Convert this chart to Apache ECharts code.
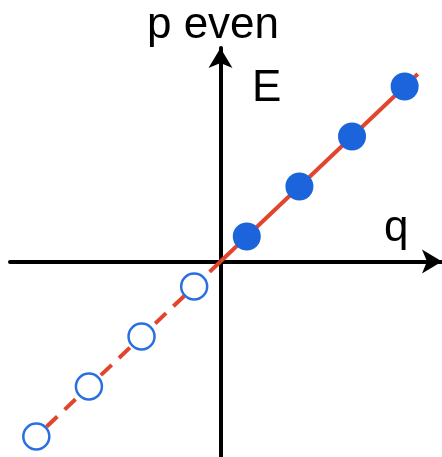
<!DOCTYPE html>
<html>
<head>
<meta charset="utf-8">
<script src="https://cdn.jsdelivr.net/npm/echarts@6/dist/echarts.min.js"></script>
<style>
  html, body { margin: 0; padding: 0; background: #fff; }
  #chart { width: 442px; height: 457px; }
</style>
</head>
<body>
<div id="chart"></div>
<script>
// Positive-q states (filled) and negative-q states (open)
const qFilled = [0.5, 1.5, 2.5, 3.5];
const eFilled = [0.5, 1.5, 2.5, 3.5];
const qOpen = [-0.5, -1.5, -2.5, -3.5];
const eOpen = [-0.5, -1.5, -2.5, -3.5];
// Dispersion line E = q, solid for q > 0, dashed for q < 0
const lineSolid = [[0, 0], [3.75, 3.75]];
const lineDashed = [[0, 0], [-3.75, -3.75]];
// Axis titles
const yTitle = 'p even';
const eTitle = 'E';
const xTitle = 'q';

const RED = '#e2452d';
const BLUE = '#1c64dc';
const FONT = '"Liberation Sans", Arial, Helvetica, sans-serif';

const chart = echarts.init(document.getElementById('chart'), null, { renderer: 'canvas' });

const axisCommon = {
  type: 'value',
  axisLine: {
    show: true,
    onZero: true,
    symbol: ['none', 'arrow'],
    symbolSize: [18, 20],
    lineStyle: { color: '#000', width: 4 }
  },
  axisTick: { show: false },
  axisLabel: { show: false },
  splitLine: { show: false }
};

chart.setOption({
  animation: false,
  backgroundColor: '#fff',
  grid: { left: 10, right: 0, top: 48, bottom: 0 },
  xAxis: Object.assign({}, axisCommon, { min: -4, max: 4.21 }),
  yAxis: Object.assign({}, axisCommon, { min: -3.91, max: 4.27 }),
  graphic: [
    { type: 'text', x: 213, y: 26, z: 10,
      style: { text: yTitle, font: '44px ' + FONT, fill: '#000', align: 'center', verticalAlign: 'middle' } },
    { type: 'text', x: 252, y: 89, z: 10,
      style: { text: eTitle, font: '44px ' + FONT, fill: '#000', align: 'left', verticalAlign: 'middle' } },
    { type: 'text', x: 384, y: 229, z: 10,
      style: { text: xTitle, font: '44px ' + FONT, fill: '#000', align: 'left', verticalAlign: 'middle' } }
  ],
  series: [
    {
      type: 'line', data: lineSolid, symbol: 'none', z: 2,
      lineStyle: { color: RED, width: 4, cap: 'butt' }
    },
    {
      type: 'line', data: lineDashed, symbol: 'none', z: 2,
      lineStyle: { color: RED, width: 4, type: [15, 10], cap: 'butt' }
    },
    {
      type: 'scatter', z: 3,
      data: qFilled.map((q, i) => [q, eFilled[i]]),
      symbol: 'circle', symbolSize: 28,
      itemStyle: { color: BLUE, opacity: 1 }
    },
    {
      type: 'scatter', z: 3,
      data: qOpen.map((q, i) => [q, eOpen[i]]),
      symbol: 'circle', symbolSize: 26,
      itemStyle: { color: '#fff', borderColor: '#2a6fe2', borderWidth: 2.5, opacity: 1 }
    }
  ]
});
</script>
</body>
</html>
